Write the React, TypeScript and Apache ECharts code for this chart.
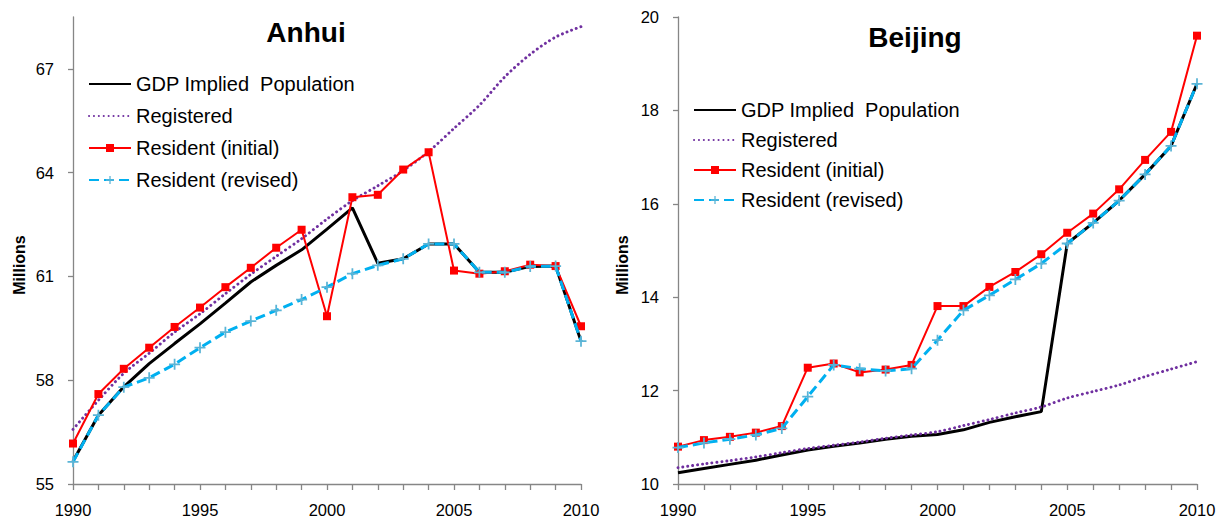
import React, { useEffect, useRef } from "react";
import * as echarts from "echarts";

// Years on the horizontal axis
const YEARS = [
  1990, 1991, 1992, 1993, 1994, 1995, 1996, 1997, 1998, 1999, 2000,
  2001, 2002, 2003, 2004, 2005, 2006, 2007, 2008, 2009, 2010,
];
const X_LABEL_YEARS = [1990, 1995, 2000, 2005, 2010];

const SERIES_NAMES = [
  "GDP Implied  Population",
  "Registered",
  "Resident (initial)",
  "Resident (revised)",
];
// Series drawn without markers: their legend entries show only the line
const LINE_ONLY = ["GDP Implied  Population", "Registered"];

// Anhui, millions
const ANHUI_GDP = [
  55.66, 56.99, 57.81, 58.48, 59.06, 59.63, 60.23, 60.84, 61.32, 61.77, 62.37,
  62.98, 61.38, 61.51, 61.94, 61.94, 61.12, 61.12, 61.29, 61.3, 59.13,
];
const ANHUI_REGISTERED = [
  56.58, 57.42, 58.2, 58.78, 59.39, 59.92, 60.5, 61.06, 61.58, 62.09, 62.66,
  63.19, 63.62, 64.06, 64.61, 65.28, 65.95, 66.77, 67.42, 67.92, 68.22,
];
const ANHUI_RESIDENT_INITIAL = [
  56.17, 57.6, 58.33, 58.94, 59.54, 60.1, 60.69, 61.25, 61.83, 62.35, 59.85,
  63.29, 63.36, 64.09, 64.59, 61.17, 61.08, 61.15, 61.34, 61.3, 59.56,
];
const ANHUI_RESIDENT_REVISED = [
  55.64, 56.99, 57.8, 58.07, 58.46, 58.94, 59.39, 59.71, 60.02, 60.33, 60.69,
  61.08, 61.32, 61.51, 61.94, 61.94, 61.12, 61.12, 61.29, 61.3, 59.13,
];
const ANHUI_Y_TICKS = [55, 58, 61, 64, 67];

// Beijing, millions
const BEIJING_GDP = [
  10.24, 10.33, 10.42, 10.51, 10.62, 10.73, 10.81, 10.88, 10.96, 11.02, 11.06,
  11.16, 11.32, 11.44, 11.55, 15.15, 15.59, 16.07, 16.63, 17.24, 18.57,
];
const BEIJING_REGISTERED = [
  10.35, 10.43, 10.5, 10.58, 10.67, 10.76, 10.83, 10.9, 10.98, 11.05, 11.12,
  11.25, 11.38, 11.52, 11.65, 11.84, 11.98, 12.12, 12.3, 12.46, 12.62,
];
const BEIJING_RESIDENT_INITIAL = [
  10.8, 10.94, 11.01, 11.1, 11.24, 12.49, 12.58, 12.39, 12.45, 12.55, 13.81,
  13.81, 14.22, 14.54, 14.92, 15.38, 15.79, 16.31, 16.94, 17.54, 19.6,
];
const BEIJING_RESIDENT_REVISED = [
  10.78, 10.88, 10.96, 11.05, 11.19, 11.87, 12.55, 12.47, 12.42, 12.47, 13.08,
  13.72, 14.04, 14.38, 14.72, 15.15, 15.59, 16.07, 16.63, 17.24, 18.57,
];
const BEIJING_Y_TICKS = [10, 12, 14, 16, 18, 20];

const FONT = "'Liberation Sans', Arial, sans-serif";
const AXIS_GREY = "#868686";
const PLUS_SYMBOL = "path://M0,4.2H10V5.8H0Z M4.2,0H5.8V10H4.2Z";

const pairs = (values: number[]) => YEARS.map((y, i) => [y, values[i]]);

function buildSeries(idx: number, data: number[][]) {
  const [gdp, reg, init, rev] = data;
  return [
    {
      name: SERIES_NAMES[0],
      type: "line",
      xAxisIndex: idx,
      yAxisIndex: idx,
      data: pairs(gdp),
      symbol: "none",
      lineStyle: { color: "#000000", width: 3 },
      itemStyle: { color: "#000000" },
      z: 2,
    },
    {
      name: SERIES_NAMES[1],
      type: "line",
      xAxisIndex: idx,
      yAxisIndex: idx,
      data: pairs(reg),
      symbol: "none",
      smooth: 0.3,
      lineStyle: { color: "#7030A0", width: 2.9, type: [0.1, 4.8], cap: "round" },
      itemStyle: { color: "#7030A0" },
      z: 3,
    },
    {
      name: SERIES_NAMES[2],
      type: "line",
      xAxisIndex: idx,
      yAxisIndex: idx,
      data: pairs(init),
      symbol: "rect",
      symbolSize: 8,
      showSymbol: true,
      lineStyle: { color: "#FF0000", width: 2 },
      itemStyle: { color: "#FF0000" },
      z: 4,
    },
    {
      name: SERIES_NAMES[3],
      type: "line",
      xAxisIndex: idx,
      yAxisIndex: idx,
      data: pairs(rev),
      symbol: PLUS_SYMBOL,
      symbolSize: 11,
      showSymbol: true,
      lineStyle: { color: "#00B0F0", width: 3, type: [10, 5] },
      itemStyle: { color: "#5AB4D6" },
      z: 5,
    },
  ];
}

function xAxis(idx: number) {
  return {
    type: "value",
    gridIndex: idx,
    min: 1990,
    max: 2010,
    interval: 1,
    axisLine: { show: true, onZero: false, lineStyle: { color: AXIS_GREY, width: 1.3 } },
    axisTick: { show: true, length: 6, lineStyle: { color: AXIS_GREY, width: 1.3 } },
    splitLine: { show: false },
    axisLabel: {
      margin: 17,
      color: "#000",
      fontSize: 16.5,
      fontFamily: FONT,
      formatter: (v: number) => (X_LABEL_YEARS.indexOf(v) >= 0 ? String(v) : ""),
    },
  };
}

function yAxis(idx: number, min: number, max: number, ticks: number[]) {
  return {
    type: "value",
    gridIndex: idx,
    min,
    max,
    axisLine: { show: true, lineStyle: { color: AXIS_GREY, width: 1.3 } },
    axisTick: {
      show: true,
      length: 5,
      customValues: ticks,
      lineStyle: { color: AXIS_GREY, width: 1.3 },
    },
    splitLine: { show: false },
    axisLabel: {
      margin: 19,
      color: "#000",
      fontSize: 16.5,
      fontFamily: FONT,
      customValues: ticks,
    },
  };
}

function legend(left: number, top: number, gap: number) {
  return {
    orient: "vertical",
    left,
    top,
    itemWidth: 42,
    itemHeight: 10,
    itemGap: gap,
    data: SERIES_NAMES.map((name) =>
      LINE_ONLY.indexOf(name) >= 0 ? { name, itemStyle: { opacity: 0 } } : { name }
    ),
    textStyle: { fontSize: 20, fontFamily: FONT, color: "#000" },
  };
}

function textLabel(text: string, x: number, y: number, size: number, rotate = 0) {
  return {
    type: "text",
    x,
    y,
    rotation: rotate,
    style: {
      text,
      fill: "#000",
      font: `bold ${size}px ${FONT}`,
      textAlign: "center",
      textVerticalAlign: "middle",
    },
  };
}

export default function App() {
  const ref = useRef<HTMLDivElement>(null);

  useEffect(() => {
    if (!ref.current) return;
    const chart = echarts.init(ref.current, undefined, { renderer: "svg" });
    chart.setOption({
      animation: false,
      backgroundColor: "#ffffff",
      grid: [
        { left: 73, top: 17, width: 508, height: 467 },
        { left: 678, top: 17, width: 519, height: 467 },
      ],
      xAxis: [xAxis(0), xAxis(1)],
      yAxis: [
        yAxis(0, 55, 68.5, ANHUI_Y_TICKS),
        yAxis(1, 10, 20, BEIJING_Y_TICKS),
      ],
      legend: [legend(83, 69, 12), legend(688, 95, 10)],
      graphic: [
        textLabel("Anhui", 306, 32, 28),
        textLabel("Beijing", 915, 37, 28),
        textLabel("Millions", 19, 265, 16, Math.PI / 2),
        textLabel("Millions", 622, 265, 16, Math.PI / 2),
      ],
      series: [
        ...buildSeries(0, [ANHUI_GDP, ANHUI_REGISTERED, ANHUI_RESIDENT_INITIAL, ANHUI_RESIDENT_REVISED]),
        ...buildSeries(1, [BEIJING_GDP, BEIJING_REGISTERED, BEIJING_RESIDENT_INITIAL, BEIJING_RESIDENT_REVISED]),
      ],
    });
    return () => chart.dispose();
  }, []);

  return (
    <div
      ref={ref}
      style={{ position: "absolute", left: 0, top: 0, width: 1226, height: 520, background: "#fff" }}
    />
  );
}
